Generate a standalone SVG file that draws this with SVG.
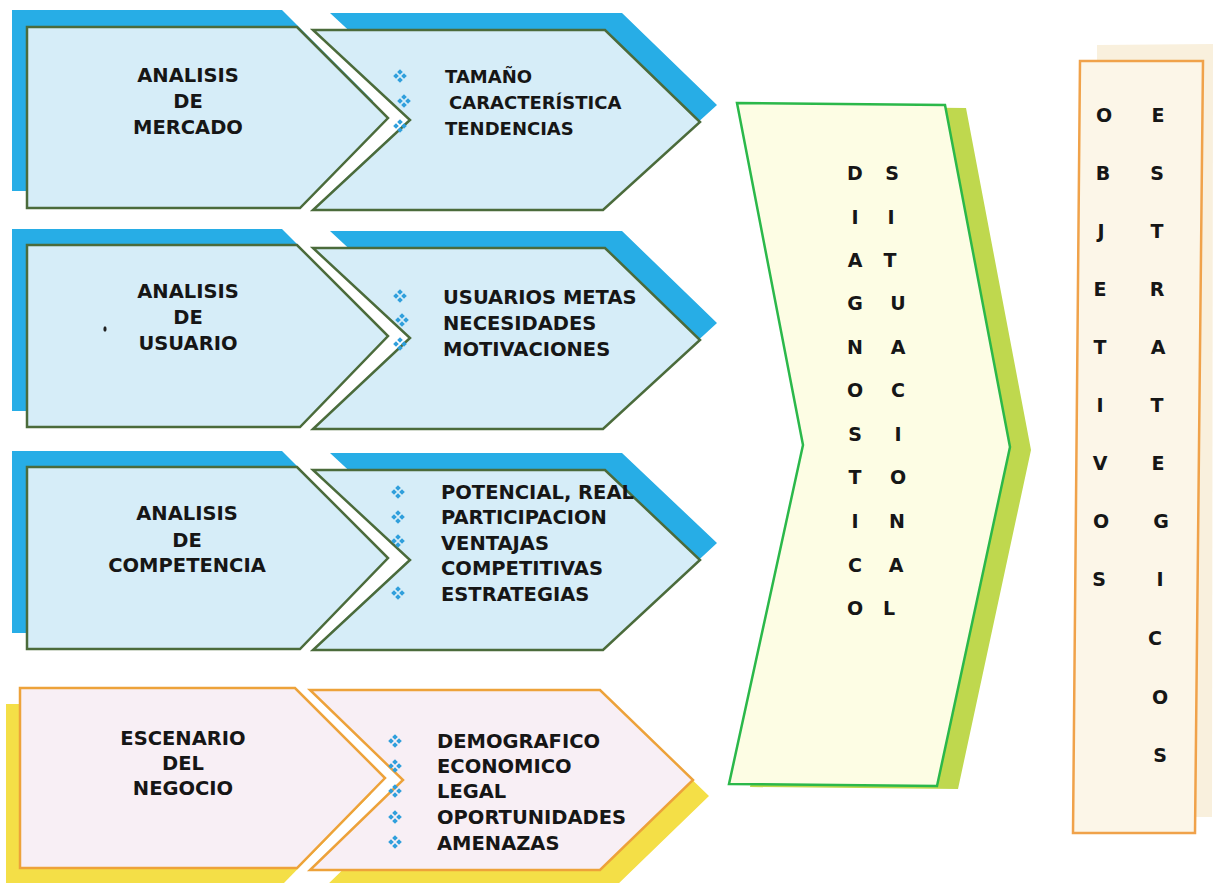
<svg xmlns="http://www.w3.org/2000/svg" xmlns:xlink="http://www.w3.org/1999/xlink" width="1221" height="883" viewBox="0 0 1221 883">
<defs>
<style>
.bshadow{fill:#27ade6}
.bpanel{fill:#d6edf8;stroke:#4b6b3b;stroke-width:2.5;stroke-linejoin:miter}
.yshadow{fill:#f4df47}
.ppanel{fill:#f8eff5;stroke:#eda23a;stroke-width:2.5}
.lbl{font-family:"DejaVu Sans","Liberation Sans",sans-serif;font-weight:bold;font-size:19.5px;fill:#161616}
.sm{font-size:18px}
.mid{text-anchor:middle}
.let{font-family:"DejaVu Sans","Liberation Sans",sans-serif;font-weight:bold;font-size:19px;fill:#161616;text-anchor:middle}
.bul{fill:#2f9fdc}
</style>
<g id="bullet">
<polygon class="bul" points="0,-6.8 2.8,-4 0,-1.2 -2.8,-4"/>
<polygon class="bul" points="0,6.8 2.8,4 0,1.2 -2.8,4"/>
<polygon class="bul" points="-6.8,0 -4,2.8 -1.2,0 -4,-2.8"/>
<polygon class="bul" points="6.8,0 4,2.8 1.2,0 4,-2.8"/>
</g>
</defs>
<rect width="1221" height="883" fill="#ffffff"/>

<g id="mercado">
<polygon class="bshadow" transform="translate(-15,-17)" points="27,27 297,27 388,118 300,208 27,208"/>
<polygon class="bpanel" points="27,27 297,27 388,118 300,208 27,208"/>
<text class="lbl mid" x="188" y="82">ANALISIS</text>
<text class="lbl mid" x="188" y="108">DE</text>
<text class="lbl mid" x="188" y="134">MERCADO</text>
</g>
<g id="mercado-items">
<polygon class="bshadow" transform="translate(17,-17)" points="313,30 605,30 700,122 603,210 313,210 410,120"/>
<polygon class="bpanel" points="313,30 605,30 700,122 603,210 313,210 410,120"/>
<use xlink:href="#bullet" x="400" y="76"/>
<use xlink:href="#bullet" x="404" y="101"/>
<use xlink:href="#bullet" x="400" y="126"/>
<text class="lbl sm" x="445" y="83">TAMAÑO</text>
<text class="lbl sm" x="449" y="109">CARACTERÍSTICA</text>
<text class="lbl sm" x="445" y="135">TENDENCIAS</text>
</g>

<g id="usuario">
<polygon class="bshadow" transform="translate(-15,-16)" points="27,245 297,245 388,336 300,427 27,427"/>
<polygon class="bpanel" points="27,245 297,245 388,336 300,427 27,427"/>
<text class="lbl mid" x="188" y="298">ANALISIS</text>
<text class="lbl mid" x="188" y="324">DE</text>
<text class="lbl mid" x="188" y="350">USUARIO</text>
<ellipse cx="105" cy="329" rx="1.6" ry="2.8" fill="#222"/>
</g>
<g id="usuario-items">
<polygon class="bshadow" transform="translate(17,-17)" points="313,248 605,248 700,340 603,429 313,429 410,338"/>
<polygon class="bpanel" points="313,248 605,248 700,340 603,429 313,429 410,338"/>
<use xlink:href="#bullet" x="400" y="296"/>
<use xlink:href="#bullet" x="402" y="320"/>
<use xlink:href="#bullet" x="400" y="344"/>
<text class="lbl" x="443" y="304">USUARIOS METAS</text>
<text class="lbl" x="443" y="330">NECESIDADES</text>
<text class="lbl" x="443" y="356">MOTIVACIONES</text>
</g>

<g id="competencia">
<polygon class="bshadow" transform="translate(-15,-16)" points="27,467 297,467 388,558 300,649 27,649"/>
<polygon class="bpanel" points="27,467 297,467 388,558 300,649 27,649"/>
<text class="lbl mid" x="187" y="520">ANALISIS</text>
<text class="lbl mid" x="187" y="547">DE</text>
<text class="lbl mid" x="187" y="572">COMPETENCIA</text>
</g>
<g id="competencia-items">
<polygon class="bshadow" transform="translate(17,-17)" points="313,470 605,470 700,560 603,650 313,650 410,560"/>
<polygon class="bpanel" points="313,470 605,470 700,560 603,650 313,650 410,560"/>
<use xlink:href="#bullet" x="398" y="492"/>
<use xlink:href="#bullet" x="398" y="517"/>
<use xlink:href="#bullet" x="398" y="541"/>
<use xlink:href="#bullet" x="398" y="593"/>
<text class="lbl" x="441" y="499">POTENCIAL, REAL</text>
<text class="lbl" x="441" y="524">PARTICIPACION</text>
<text class="lbl" x="441" y="550">VENTAJAS</text>
<text class="lbl" x="441" y="575">COMPETITIVAS</text>
<text class="lbl" x="441" y="601">ESTRATEGIAS</text>
</g>

<g id="escenario">
<polygon class="yshadow" transform="translate(-14,16)" points="20,688 295,688 385,778 297,868 20,868"/>
<polygon class="ppanel" points="20,688 295,688 385,778 297,868 20,868"/>
<text class="lbl mid" x="183" y="745">ESCENARIO</text>
<text class="lbl mid" x="183" y="770">DEL</text>
<text class="lbl mid" x="183" y="795">NEGOCIO</text>
</g>
<g id="escenario-items">
<polygon class="yshadow" transform="translate(16,16)" points="310,690 600,690 693,780 600,870 310,870 403,780"/>
<polygon class="ppanel" points="310,690 600,690 693,780 600,870 310,870 403,780"/>
<use xlink:href="#bullet" x="395" y="741"/>
<use xlink:href="#bullet" x="395" y="766"/>
<use xlink:href="#bullet" x="395" y="791"/>
<use xlink:href="#bullet" x="395" y="817"/>
<use xlink:href="#bullet" x="395" y="842"/>
<text class="lbl" x="437" y="748">DEMOGRAFICO</text>
<text class="lbl" x="437" y="773">ECONOMICO</text>
<text class="lbl" x="437" y="798">LEGAL</text>
<text class="lbl" x="437" y="824">OPORTUNIDADES</text>
<text class="lbl" x="437" y="850">AMENAZAS</text>
</g>

<g id="diagnostico">
<polygon fill="#bfd84e" transform="translate(21,3)" points="737,103 945,105 1010,447 937,786 729,784 803,445"/>
<polygon fill="#fdfde4" stroke="#2bb84a" stroke-width="2.5" points="737,103 945,105 1010,447 937,786 729,784 803,445"/>
<text class="let" x="855" y="180">D</text><text class="let" x="892" y="180">S</text>
<text class="let" x="855" y="224">I</text><text class="let" x="891" y="224">I</text>
<text class="let" x="855" y="267">A</text><text class="let" x="890" y="267">T</text>
<text class="let" x="855" y="310">G</text><text class="let" x="898" y="310">U</text>
<text class="let" x="855" y="354">N</text><text class="let" x="898" y="354">A</text>
<text class="let" x="855" y="397">O</text><text class="let" x="898" y="397">C</text>
<text class="let" x="855" y="441">S</text><text class="let" x="898" y="441">I</text>
<text class="let" x="855" y="484">T</text><text class="let" x="898" y="484">O</text>
<text class="let" x="855" y="528">I</text><text class="let" x="897" y="528">N</text>
<text class="let" x="855" y="572">C</text><text class="let" x="896" y="572">A</text>
<text class="let" x="855" y="615">O</text><text class="let" x="889" y="615">L</text>
</g>

<g id="objetivos">
<polygon fill="#f9f0dd" points="1097,45 1213,44 1212,817 1097,817"/>
<polygon fill="#fcf6e8" stroke="#f0a24a" stroke-width="2.5" points="1080,61 1203,61 1195,833 1073,833"/>
<text class="let" x="1104" y="122">O</text><text class="let" x="1158" y="122">E</text>
<text class="let" x="1103" y="180">B</text><text class="let" x="1157" y="180">S</text>
<text class="let" x="1101" y="238">J</text><text class="let" x="1157" y="238">T</text>
<text class="let" x="1100" y="296">E</text><text class="let" x="1157" y="296">R</text>
<text class="let" x="1100" y="354">T</text><text class="let" x="1158" y="354">A</text>
<text class="let" x="1100" y="412">I</text><text class="let" x="1157" y="412">T</text>
<text class="let" x="1100" y="470">V</text><text class="let" x="1158" y="470">E</text>
<text class="let" x="1101" y="528">O</text><text class="let" x="1161" y="528">G</text>
<text class="let" x="1099" y="586">S</text><text class="let" x="1160" y="586">I</text>
<text class="let" x="1155" y="645">C</text>
<text class="let" x="1160" y="704">O</text>
<text class="let" x="1160" y="762">S</text>
</g>

<g id="connectors"/>
</svg>
